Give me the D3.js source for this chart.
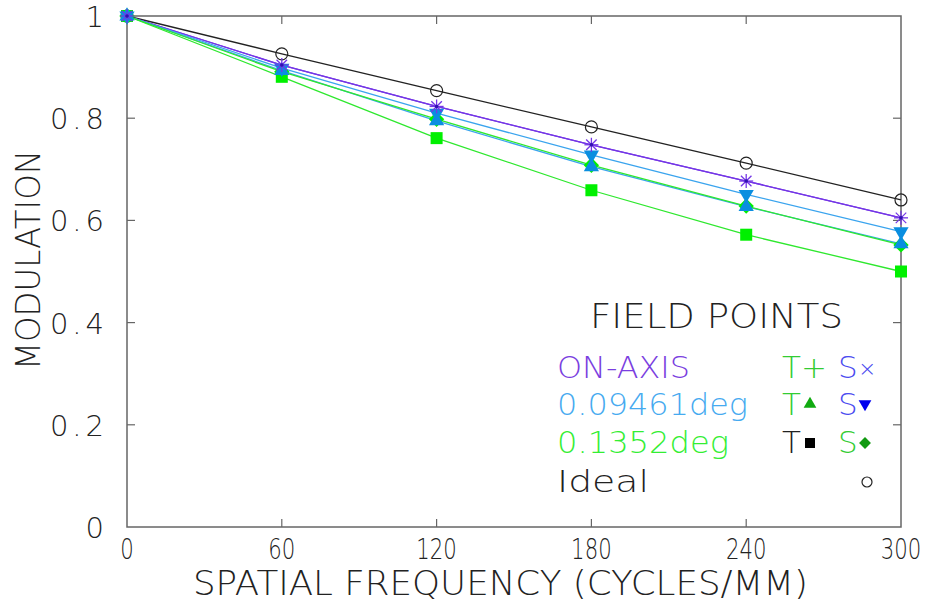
<!DOCTYPE html>
<html>
<head>
<meta charset="utf-8">
<script src="https://cdn.jsdelivr.net/npm/d3@7"></script>
<style>
  html, body { margin: 0; padding: 0; background: #fff; }
  svg text { font-family: "DejaVu Sans", sans-serif; font-weight: 200; }
</style>
</head>
<body>
<svg id="chart"></svg>
<script>
// Data
const FREQS = [0, 60, 120, 180, 240, 300];
const IDEAL = [1, 0.926, 0.854, 0.783, 0.712, 0.640];
const ONAXIS_T = [1, 0.904, 0.823, 0.748, 0.677, 0.605];
const ONAXIS_S = [1, 0.904, 0.823, 0.748, 0.677, 0.605];
const F1_T = [1, 0.893, 0.795, 0.705, 0.627, 0.554];
const F1_S = [1, 0.898, 0.810, 0.728, 0.651, 0.578];
const F2_T = [1, 0.881, 0.761, 0.659, 0.572, 0.500];
const F2_S = [1, 0.891, 0.798, 0.708, 0.628, 0.552];

const X_TICKS = [0, 60, 120, 180, 240, 300];
const Y_TICKS = [0, 0.2, 0.4, 0.6, 0.8, 1];

const PURPLE = '#7436e6', BLUE = '#3aa4ee', GREEN = '#2ee82e', BLACK = '#222';
const TRI_BLUE = '#0a8ee0', MARK_GREEN = '#00f000';

const SERIES = [
    {vals: IDEAL, color: BLACK},
    {vals: ONAXIS_T, color: PURPLE},
    {vals: ONAXIS_S, color: PURPLE},
    {vals: F1_S, color: BLUE},
    {vals: F1_T, color: BLUE},
    {vals: F2_S, color: GREEN},
    {vals: F2_T, color: GREEN}
];

// Setup
const width = 927, height = 606;
const svg = d3.select('#chart').attr('width', width).attr('height', height);
const x = d3.scaleLinear().domain([0, 300]).range([127, 901]);
const y = d3.scaleLinear().domain([0, 1]).range([527, 16]);
const axisColor = '#666';

// frame
svg.append('rect')
    .attr('x', x(0)).attr('y', y(1))
    .attr('width', x(300) - x(0)).attr('height', y(0) - y(1))
    .attr('fill', 'none').attr('stroke', axisColor).attr('stroke-width', 1.5);

// inward ticks
const tk = 8;
const ticks = svg.append('g').attr('stroke', axisColor).attr('stroke-width', 1.2);
X_TICKS.slice(1, -1).forEach(t => {
    ticks.append('line').attr('x1', x(t)).attr('x2', x(t)).attr('y1', y(0)).attr('y2', y(0) - tk);
    ticks.append('line').attr('x1', x(t)).attr('x2', x(t)).attr('y1', y(1)).attr('y2', y(1) + tk);
});
Y_TICKS.slice(1, -1).forEach(t => {
    ticks.append('line').attr('x1', x(0)).attr('x2', x(0) + tk).attr('y1', y(t)).attr('y2', y(t));
    ticks.append('line').attr('x1', x(300)).attr('x2', x(300) - tk).attr('y1', y(t)).attr('y2', y(t));
});

// tick labels
const xtY = 559;
svg.append('g').selectAll('text').data(X_TICKS).join('text')
    .attr('x', d => x(d)).attr('y', xtY)
    .attr('text-anchor', 'middle')
    .attr('font-size', 25).attr('fill', '#222')
    .attr('transform', d => `translate(${x(d)},${xtY}) scale(0.85,1.1) translate(${-x(d)},${-xtY})`)
    .text(d => d);

svg.append('g').selectAll('text').data(Y_TICKS).join('text')
    .attr('x', 108).attr('y', d => y(d) + 11)
    .attr('text-anchor', 'end')
    .attr('font-size', 29).attr('fill', '#222')
    .attr('letter-spacing', 4)
    .text(d => d === 0 || d === 1 ? d : d3.format('.1f')(d));

// axis titles
svg.append('text')
    .attr('x', 193).attr('y', 595)
    .attr('font-size', 33).attr('fill', '#222')
    .attr('textLength', 615).attr('lengthAdjust', 'spacingAndGlyphs')
    .text('SPATIAL FREQUENCY (CYCLES/MM)');

svg.append('text')
    .attr('transform', 'translate(40,370) rotate(-90)')
    .attr('font-size', 34).attr('fill', '#222')
    .attr('textLength', 220).attr('lengthAdjust', 'spacingAndGlyphs')
    .text('MODULATION');

// lines
const line = d3.line().x((d, i) => x(FREQS[i])).y(d => y(d));
svg.append('g').selectAll('path').data(SERIES).join('path')
    .attr('d', d => line(d.vals))
    .attr('fill', 'none')
    .attr('stroke', d => d.color)
    .attr('stroke-width', 1.3);

// markers
const pts = vals => vals.map((v, i) => ({cx: x(FREQS[i]), cy: y(v)}));
const ms = 6;
const sym = (type, size) => d3.symbol().type(type).size(size)();

function drawSymbol(vals, type, size, fill, rot) {
    svg.append('g').selectAll('path').data(pts(vals)).join('path')
        .attr('transform', d => `translate(${d.cx},${d.cy})` + (rot ? ` rotate(${rot})` : ''))
        .attr('d', sym(type, size))
        .attr('fill', fill);
}

// ideal circles
svg.append('g').selectAll('circle').data(pts(IDEAL)).join('circle')
    .attr('cx', d => d.cx).attr('cy', d => d.cy).attr('r', 6)
    .attr('fill', 'none').attr('stroke', BLACK).attr('stroke-width', 1.2);

// squares (0.1352 T)
svg.append('g').selectAll('rect').data(pts(F2_T)).join('rect')
    .attr('x', d => d.cx - ms).attr('y', d => d.cy - ms)
    .attr('width', ms * 2).attr('height', ms * 2)
    .attr('fill', MARK_GREEN);

// diamonds (0.1352 S)
drawSymbol(F2_S, d3.symbolDiamond2, 150, MARK_GREEN, 0);
// down triangles (0.09461 S)
drawSymbol(F1_S, d3.symbolTriangle, 100, TRI_BLUE, 180);
// up triangles (0.09461 T)
drawSymbol(F1_T, d3.symbolTriangle, 100, TRI_BLUE, 0);

// asterisks (on-axis T + and S x)
const ast = svg.append('g').attr('stroke', PURPLE).attr('stroke-width', 1.3);
const am = 7;
pts(ONAXIS_T).forEach(d => {
    ast.append('line').attr('x1', d.cx - am).attr('x2', d.cx + am).attr('y1', d.cy).attr('y2', d.cy);
    ast.append('line').attr('x1', d.cx).attr('x2', d.cx).attr('y1', d.cy - am).attr('y2', d.cy + am);
});
pts(ONAXIS_S).forEach(d => {
    const k = am * 0.75;
    ast.append('line').attr('x1', d.cx - k).attr('x2', d.cx + k).attr('y1', d.cy - k).attr('y2', d.cy + k);
    ast.append('line').attr('x1', d.cx - k).attr('x2', d.cx + k).attr('y1', d.cy + k).attr('y2', d.cy - k);
});
svg.append('g').selectAll('circle').data(pts(ONAXIS_T)).join('circle')
    .attr('cx', d => d.cx).attr('cy', d => d.cy).attr('r', 1.8)
    .attr('fill', '#3010b0');

// Legend
const leg = svg.append('g');
const legFont = 31;
leg.append('text').attr('x', 590).attr('y', 328)
    .attr('font-size', legFont + 2).attr('fill', '#222')
    .attr('textLength', 253).attr('lengthAdjust', 'spacingAndGlyphs')
    .text('FIELD POINTS');

const LEG_ROWS = [
    {label: 'ON-AXIS', color: '#7a3ee0', len: 133, yb: 378},
    {label: '0.09461deg', color: '#46aaf0', len: 191, yb: 415},
    {label: '0.1352deg', color: '#33ee33', len: 172, yb: 453},
    {label: 'Ideal', color: '#222', len: 92, yb: 492}
];
LEG_ROWS.forEach(r => {
    leg.append('text').attr('x', 557).attr('y', r.yb)
        .attr('font-size', legFont).attr('fill', r.color)
        .attr('textLength', r.len).attr('lengthAdjust', 'spacingAndGlyphs')
        .text(r.label);
});

const T_X = 782, S_X = 838;
const legText = (xx, yy, txt, col) => leg.append('text').attr('x', xx).attr('y', yy)
    .attr('font-size', legFont).attr('fill', col).text(txt);

// row 1
legText(T_X, 378, 'T+', '#33cc33');
legText(S_X, 378, 'S', '#4b4bf0');
leg.append('text').attr('x', S_X + 20).attr('y', 376).attr('font-size', 22).attr('fill', '#4b4bf0').text('×');
// row 2
legText(T_X, 415, 'T', '#33cc33');
leg.append('path').attr('transform', `translate(${T_X + 28},404)`).attr('d', sym(d3.symbolTriangle, 70)).attr('fill', '#11aa11');
legText(S_X, 415, 'S', '#4b4bf0');
leg.append('path').attr('transform', `translate(${S_X + 27},404) rotate(180)`).attr('d', sym(d3.symbolTriangle, 70)).attr('fill', '#0000ee');
// row 3
legText(T_X, 453, 'T', '#222');
leg.append('rect').attr('x', T_X + 23).attr('y', 438).attr('width', 10).attr('height', 10).attr('fill', '#000');
legText(S_X, 453, 'S', '#33cc33');
leg.append('path').attr('transform', `translate(${S_X + 27},443)`).attr('d', sym(d3.symbolDiamond2, 90)).attr('fill', '#119911');
// row 4
leg.append('circle').attr('cx', 867).attr('cy', 482).attr('r', 5)
    .attr('fill', 'none').attr('stroke', '#222').attr('stroke-width', 1.2);
</script>
</body>
</html>
